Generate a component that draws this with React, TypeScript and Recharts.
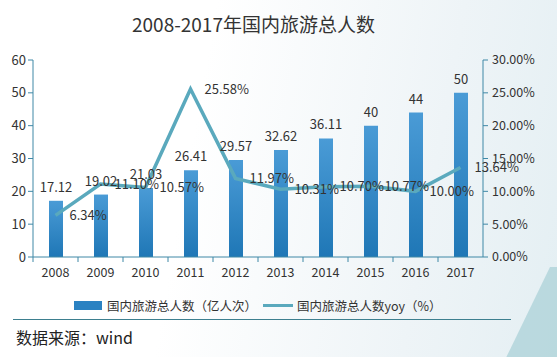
import React from "react";
import {
  ComposedChart,
  Bar,
  Line,
  XAxis,
  YAxis,
  LabelList,
  Legend,
} from "recharts";

const years = ["2008", "2009", "2010", "2011", "2012", "2013", "2014", "2015", "2016", "2017"];
const visitors = [17.12, 19.02, 21.03, 26.41, 29.57, 32.62, 36.11, 40, 44, 50];
const yoy = [6.34, 11.1, 10.57, 25.58, 11.97, 10.31, 10.7, 10.77, 10.0, 13.64];
const leftTicks = [0, 10, 20, 30, 40, 50, 60];
const rightTicks = [0, 5, 10, 15, 20, 25, 30];

const data = years.map((year, i) => ({ year, visitors: visitors[i], yoy: yoy[i] }));

const FONT = "'Noto Sans CJK SC', 'Noto Sans', sans-serif";
const AXIS = "#3f88a6";
const TEXT = "#333";

// ticks sit between the categories, like the original
const XTick = (props: any) => {
  const { x, y, payload } = props;
  const half = payload && payload.offset ? payload.offset : 22.5;
  return (
    <g>
      <line x1={x - half} x2={x - half} y1={y - 11} y2={y - 6} stroke={AXIS} />
      <text x={x} y={y} dy="0.71em" textAnchor="middle" fill={TEXT} fontSize={12.5} fontFamily={FONT}>
        {payload.value}
      </text>
    </g>
  );
};

const LegendContent = (props: any) => {
  // bar first, then the line
  const items = [...(props.payload || [])].sort((a: any, b: any) =>
    a.type === "rect" ? -1 : b.type === "rect" ? 1 : 0
  );
  return (
    <div style={{ display: "flex", alignItems: "center", paddingLeft: 74, fontFamily: FONT, fontSize: 12.5, color: TEXT }}>
      {items.map((it: any) => (
        <div key={it.value} style={{ display: "flex", alignItems: "center", marginRight: 6 }}>
          {it.type === "rect" ? (
            <span style={{ width: 28, height: 9, background: "#2b82c2", marginRight: 5 }} />
          ) : (
            <span style={{ width: 30, height: 3, background: "#5aa9bd", marginRight: 4 }} />
          )}
          <span>{it.value}</span>
        </div>
      ))}
    </div>
  );
};

export default function App() {
  return (
    <div
      style={{
        position: "absolute",
        left: 0,
        top: 0,
        width: 557,
        height: 357,
        overflow: "hidden",
        fontFamily: FONT,
        background: "linear-gradient(100deg, #ffffff 35%, #eef4f7 75%, #e4eff3 100%)",
      }}
    >
      <div
        style={{
          position: "absolute",
          right: -20,
          bottom: -40,
          width: 90,
          height: 130,
          background: "#9cc9d1",
          opacity: 0.6,
          clipPath: "polygon(70% 0, 100% 0, 100% 100%, 0 100%)",
        }}
      />
      <div style={{ position: "absolute", left: 132, top: 10, fontSize: 19, color: TEXT }}>
        2008-2017年国内旅游总人数
      </div>
      <ComposedChart
        width={557}
        height={357}
        data={data}
        margin={{ top: 60, right: 0, bottom: 70, left: 0 }}
        style={{ position: "absolute", left: 0, top: 0 }}
      >
        <defs>
          <linearGradient id="barFill" x1="0" y1="0" x2="0" y2="1">
            <stop offset="0%" stopColor="#4a9bd6" />
            <stop offset="100%" stopColor="#1f77b6" />
          </linearGradient>
        </defs>
        <XAxis
          dataKey="year"
          height={30}
          stroke={AXIS}
          tickLine={false}
          tickSize={5}
          tickMargin={6}
          tick={<XTick />}
          interval={0}
        />
        <YAxis
          yAxisId="left"
          width={33}
          domain={[0, 60]}
          ticks={leftTicks}
          stroke={AXIS}
          tickSize={5}
          tick={{ fill: TEXT, fontSize: 13, fontFamily: FONT }}
        />
        <YAxis
          yAxisId="right"
          orientation="right"
          width={74}
          domain={[0, 30]}
          ticks={rightTicks}
          stroke={AXIS}
          tickSize={5}
          tickMargin={4}
          tickFormatter={(v: number) => v.toFixed(2) + "%"}
          tick={{ fill: TEXT, fontSize: 12.5, fontFamily: FONT, textAnchor: "start" }}
        />
        <Legend
          layout="horizontal"
          verticalAlign="middle"
          align="center"
          wrapperStyle={{ top: 296, left: 0, width: 557 }}
          content={<LegendContent />}
        />
        <Bar
          yAxisId="left"
          dataKey="visitors"
          name="国内旅游总人数（亿人次）"
          fill="url(#barFill)"
          barSize={14}
          legendType="rect"
          isAnimationActive={false}
        >
          <LabelList dataKey="visitors" position="top" offset={9} fill={TEXT} fontSize={13} fontFamily={FONT} />
        </Bar>
        <Line
          yAxisId="right"
          dataKey="yoy"
          name="国内旅游总人数yoy（%）"
          type="linear"
          stroke="#5aa9bd"
          strokeWidth={3.5}
          dot={false}
          legendType="line"
          isAnimationActive={false}
        >
          <LabelList
            dataKey="yoy"
            position="right"
            offset={14}
            fill={TEXT}
            fontSize={13}
            fontFamily={FONT}
            formatter={(v: number) => v.toFixed(2) + "%"}
          />
        </Line>
      </ComposedChart>
      <div style={{ position: "absolute", left: 13, top: 319, width: 498, height: 1, background: "#3d7f8f" }} />
      <div style={{ position: "absolute", left: 16, top: 325, fontSize: 16, color: "#222" }}>数据来源：wind</div>
    </div>
  );
}
